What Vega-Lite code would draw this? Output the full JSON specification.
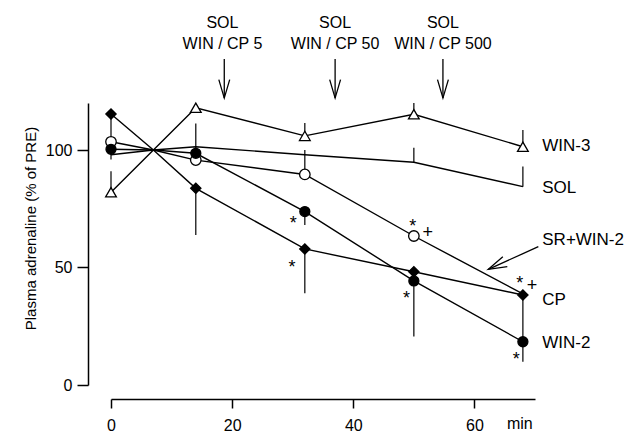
{
  "$schema": "https://vega.github.io/schema/vega-lite/v6.json",
  "width": 424,
  "height": 282,
  "autosize": {"type": "none"},
  "padding": {"left": 111, "top": 103, "right": 93, "bottom": 48},
  "background": "white",
  "config": {
    "view": {"stroke": null},
    "font": "Liberation Sans",
    "axis": {"grid": false, "domainColor": "black", "tickColor": "black", "labelColor": "black", "titleColor": "black", "labelFont": "Liberation Sans", "titleFont": "Liberation Sans", "domainWidth": 1.5, "tickWidth": 1.5}
  },
  "datasets": {
    "pts": [
      {"s": "WIN-3", "t": 0, "v": 82, "m": 1}, {"s": "WIN-3", "t": 7, "v": 100, "m": 0}, {"s": "WIN-3", "t": 14, "v": 118, "m": 1}, {"s": "WIN-3", "t": 32, "v": 106, "m": 1}, {"s": "WIN-3", "t": 50, "v": 115.2, "m": 1}, {"s": "WIN-3", "t": 68, "v": 101.4, "m": 1},
      {"s": "SOL", "t": 0, "v": 98, "m": 0}, {"s": "SOL", "t": 7, "v": 100, "m": 0}, {"s": "SOL", "t": 14, "v": 101.4, "m": 0}, {"s": "SOL", "t": 32, "v": 98, "m": 0}, {"s": "SOL", "t": 50, "v": 94.8, "m": 0}, {"s": "SOL", "t": 68, "v": 84.4, "m": 0},
      {"s": "SR+WIN-2", "t": 0, "v": 103.5, "m": 1}, {"s": "SR+WIN-2", "t": 7, "v": 100, "m": 0}, {"s": "SR+WIN-2", "t": 14, "v": 95.7, "m": 1}, {"s": "SR+WIN-2", "t": 32, "v": 89.6, "m": 1}, {"s": "SR+WIN-2", "t": 50, "v": 63.4, "m": 1}, {"s": "SR+WIN-2", "t": 68, "v": 38.8, "m": 0},
      {"s": "CP", "t": 0, "v": 115.3, "m": 1}, {"s": "CP", "t": 7, "v": 100, "m": 0}, {"s": "CP", "t": 14, "v": 83.7, "m": 1}, {"s": "CP", "t": 32, "v": 57.9, "m": 1}, {"s": "CP", "t": 50, "v": 48.2, "m": 1}, {"s": "CP", "t": 68, "v": 38.3, "m": 1},
      {"s": "WIN-2", "t": 0, "v": 100.3, "m": 1}, {"s": "WIN-2", "t": 7, "v": 100, "m": 0}, {"s": "WIN-2", "t": 14, "v": 98.6, "m": 1}, {"s": "WIN-2", "t": 32, "v": 73.8, "m": 1}, {"s": "WIN-2", "t": 50, "v": 44.3, "m": 1}, {"s": "WIN-2", "t": 68, "v": 18.4, "m": 1}
    ],
    "err": [
      {"t": 0, "v": 82, "v2": 91}, {"t": 32, "v": 106, "v2": 111.5}, {"t": 50, "v": 115.2, "v2": 120}, {"t": 68, "v": 101.4, "v2": 108.5},
      {"t": 50, "v": 94.8, "v2": 101}, {"t": 68, "v": 84.4, "v2": 93},
      {"t": 32, "v": 89.6, "v2": 100},
      {"t": 0, "v": 115.3, "v2": 104}, {"t": 14, "v": 83.7, "v2": 63.8}, {"t": 32, "v": 57.9, "v2": 39}, {"t": 68, "v": 38.3, "v2": 18.4},
      {"t": 0, "v": 100.3, "v2": 96}, {"t": 14, "v": 98.6, "v2": 111.3}, {"t": 32, "v": 73.8, "v2": 68.1}, {"t": 50, "v": 44.3, "v2": 20.6}, {"t": 68, "v": 18.4, "v2": 9.9}
    ],
    "shafts": [
      {"t": 18.7, "v": 138.7, "t2": 18.7, "v2": 122.1},
      {"t": 37, "v": 138.7, "t2": 37, "v2": 122.1},
      {"t": 54.8, "v": 138.7, "t2": 54.8, "v2": 122.1},
      {"t": 70.55, "v": 58.85, "t2": 62.29, "v2": 49.23}
    ],
    "heads": [
      {"t": 18.7, "v": 122.1, "a": 0},
      {"t": 37, "v": 122.1, "a": 0},
      {"t": 54.8, "v": 122.1, "a": 0},
      {"t": 62.29, "v": 49.23, "a": 65.7}
    ],
    "top": [
      {"t": 18.4, "v": 154.2, "txt": "SOL"}, {"t": 18.4, "v": 145.3, "txt": "WIN / CP 5"},
      {"t": 37, "v": 154.2, "txt": "SOL"}, {"t": 37, "v": 145.3, "txt": "WIN / CP 50"},
      {"t": 54.8, "v": 154.2, "txt": "SOL"}, {"t": 54.8, "v": 145.3, "txt": "WIN / CP 500"}
    ],
    "right": [
      {"t": 71.2, "v": 101.5, "txt": "WIN-3"},
      {"t": 71.2, "v": 83.7, "txt": "SOL"},
      {"t": 71.2, "v": 61.7, "txt": "SR+WIN-2"},
      {"t": 71.2, "v": 36.2, "txt": "CP"},
      {"t": 71.2, "v": 17.7, "txt": "WIN-2"}
    ],
    "unit": [{"t": 67.5, "v": -13.2, "txt": "min"}],
    "stars": [
      {"t": 30.1, "v": 70.2, "txt": "*"},
      {"t": 29.9, "v": 51.5, "txt": "*"},
      {"t": 49.8, "v": 68.8, "txt": "*"},
      {"t": 52.3, "v": 66.3, "txt": "+"},
      {"t": 48.8, "v": 38.3, "txt": "*"},
      {"t": 67.5, "v": 44.7, "txt": "*"},
      {"t": 69.5, "v": 44, "txt": "+"},
      {"t": 66.9, "v": 12.3, "txt": "*"}
    ]
  },
  "encoding": {
    "x": {"field": "t", "type": "quantitative", "scale": {"domain": [0, 70], "nice": false, "zero": false},
      "axis": {"values": [0, 20, 40, 60], "offset": 14, "tickSize": 9, "labelPadding": 9, "labelFontSize": 16, "title": null, "labelFlush": false}},
    "y": {"field": "v", "type": "quantitative", "scale": {"domain": [0, 120], "nice": false, "zero": false},
      "axis": {"values": [0, 50, 100], "offset": 23, "tickSize": 11, "labelPadding": 5, "labelFontSize": 16, "title": "Plasma adrenaline (% of PRE)", "titleFontSize": 15, "titleFontWeight": "normal", "titleX": -50, "titleY": 125, "labelFlush": false}}
  },
  "layer": [
    {"data": {"name": "pts"}, "mark": {"type": "line", "color": "black", "strokeWidth": 1.4},
      "encoding": {"detail": {"field": "s", "type": "nominal"}}},
    {"data": {"name": "err"}, "mark": {"type": "rule", "color": "black", "strokeWidth": 1.2},
      "encoding": {"y2": {"field": "v2"}}},
    {"data": {"name": "pts"}, "transform": [{"filter": "datum.m == 1"}],
      "mark": {"type": "point", "filled": true, "stroke": "black", "strokeWidth": 1.3, "opacity": 1},
      "encoding": {
        "shape": {"field": "s", "type": "nominal", "legend": null, "scale": {"domain": ["WIN-3", "SR+WIN-2", "CP", "WIN-2"], "range": ["triangle-up", "circle", "diamond", "circle"]}},
        "fill": {"field": "s", "type": "nominal", "legend": null, "scale": {"domain": ["WIN-3", "SR+WIN-2", "CP", "WIN-2"], "range": ["white", "white", "black", "black"]}},
        "size": {"field": "s", "type": "nominal", "legend": null, "scale": {"domain": ["WIN-3", "SR+WIN-2", "CP", "WIN-2"], "range": [115, 100, 160, 120]}}
      }},
    {"data": {"name": "shafts"}, "mark": {"type": "rule", "color": "black", "strokeWidth": 1.3},
      "encoding": {"x2": {"field": "t2"}, "y2": {"field": "v2"}}},
    {"data": {"name": "heads"}, "mark": {"type": "point", "filled": false, "stroke": "black", "strokeWidth": 1.3, "opacity": 1, "size": 1024, "shape": "M-0.34,-1.15L0,0L0.34,-1.15"},
      "encoding": {"angle": {"field": "a", "type": "quantitative", "scale": null}}},
    {"data": {"name": "top"}, "mark": {"type": "text", "align": "center", "baseline": "middle", "fontSize": 16, "color": "black"},
      "encoding": {"text": {"field": "txt"}}},
    {"data": {"name": "right"}, "mark": {"type": "text", "align": "left", "baseline": "middle", "fontSize": 17, "color": "black"},
      "encoding": {"text": {"field": "txt"}}},
    {"data": {"name": "unit"}, "mark": {"type": "text", "align": "center", "baseline": "top", "fontSize": 16, "color": "black"},
      "encoding": {"text": {"field": "txt"}}},
    {"data": {"name": "stars"}, "mark": {"type": "text", "align": "center", "baseline": "middle", "fontSize": 18, "dy": 4, "color": "black"},
      "encoding": {"text": {"field": "txt"}}}
  ]
}
